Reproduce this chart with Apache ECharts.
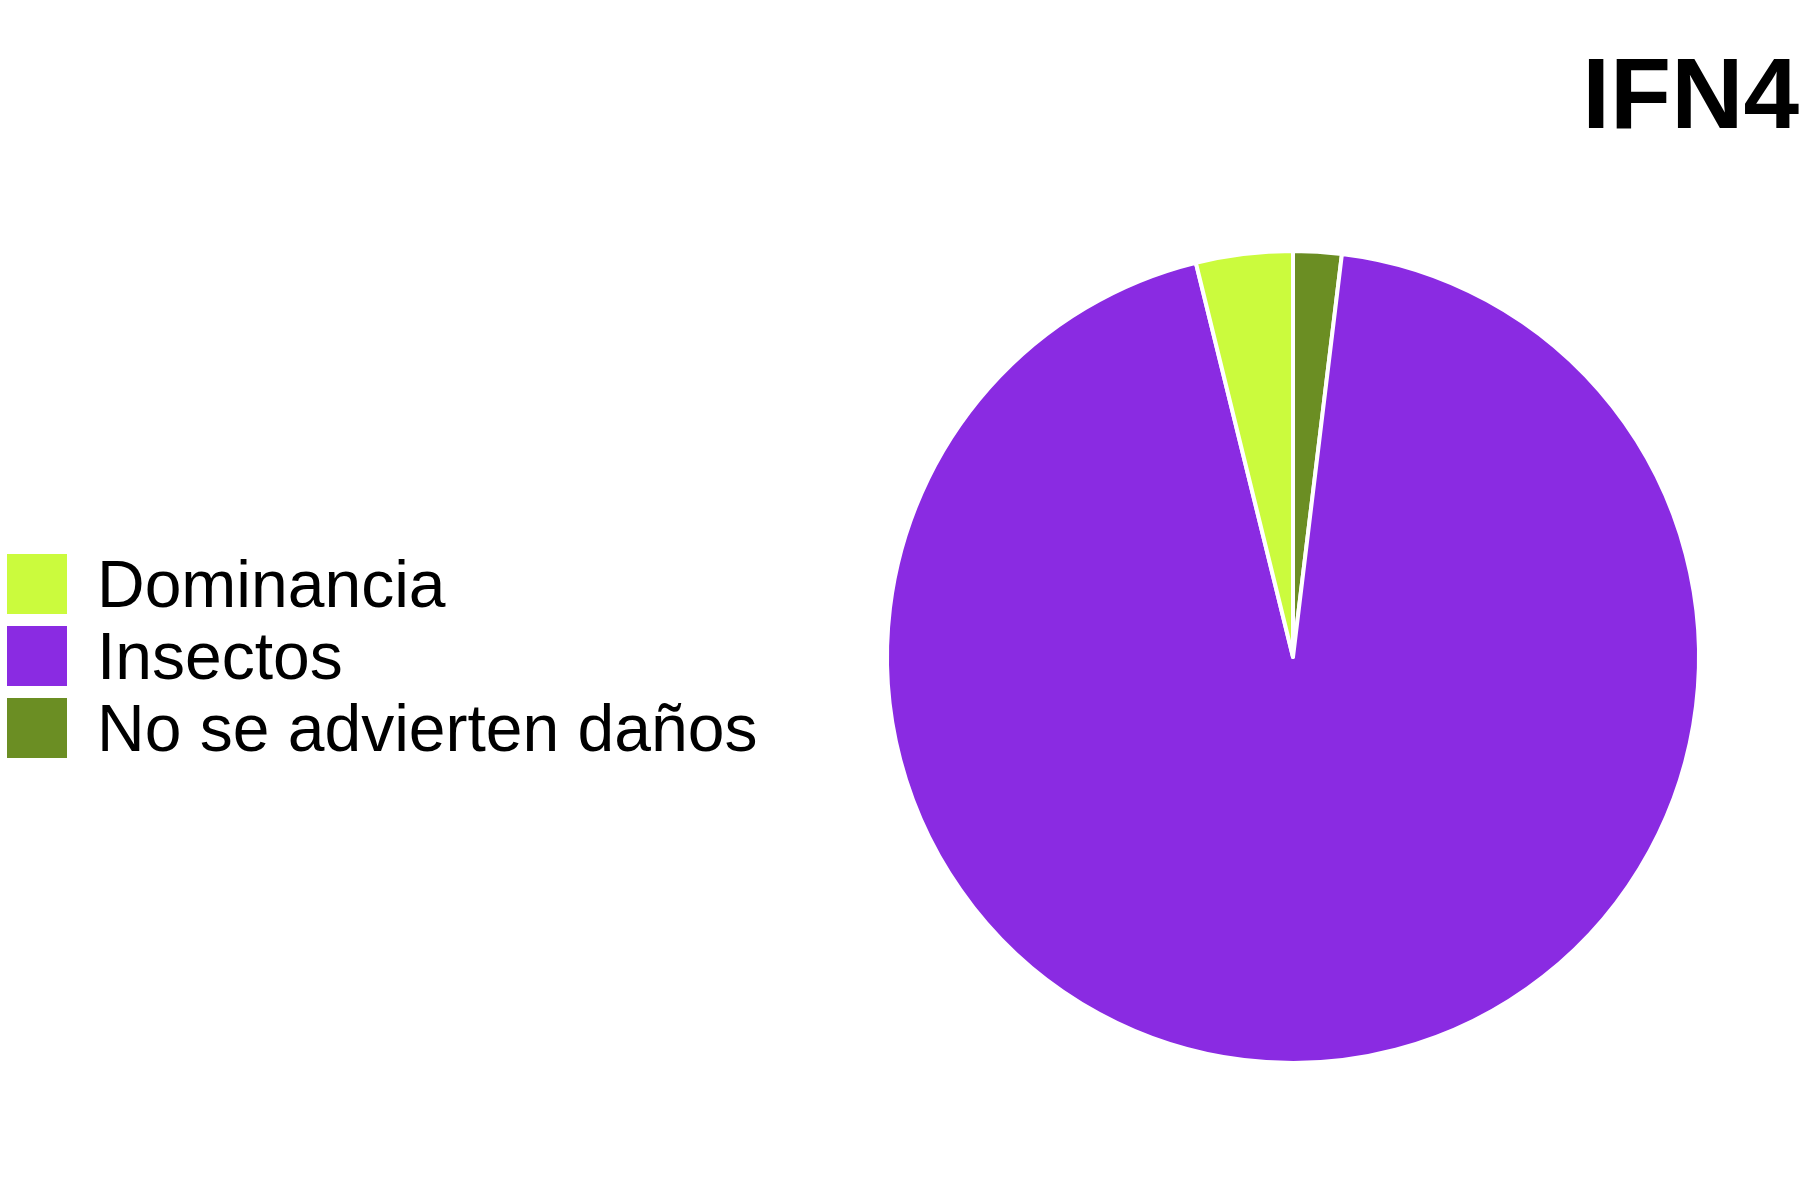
<!DOCTYPE html>
<html>
<head>
<meta charset="utf-8">
<script src="https://cdn.jsdelivr.net/npm/echarts@6/dist/echarts.min.js"></script>
<style>
  html, body { margin: 0; padding: 0; background: #fff; }
  #chart { width: 1800px; height: 1200px; }
</style>
</head>
<body>
<div id="chart"></div>
<script>
// 数据: 顺时针从12点开始
const categories = ['No se advierten daños', 'Insectos', 'Dominancia'];
const values = [1, 49, 2];
const colors = ['#6B8E23', '#8A2BE2', '#CBFB3D'];
const legendOrder = ['Dominancia', 'Insectos', 'No se advierten daños'];

const chart = echarts.init(document.getElementById('chart'));
chart.setOption({
  animation: false,
  title: {
    text: 'IFN4',
    right: -4,
    top: 45,
    textStyle: {
      fontFamily: 'Liberation Sans',
      fontSize: 100,
      fontWeight: 'bold',
      color: '#000'
    }
  },
  legend: {
    data: legendOrder,
    orient: 'vertical',
    left: 0,
    top: 541,
    itemWidth: 62,
    itemHeight: 62,
    itemGap: -4,
    icon: 'rect',
    formatter: '{n|{name}}',
    textStyle: {
      fontFamily: 'Liberation Sans',
      fontSize: 66,
      color: '#000',
      padding: [0, 0, 0, 24],
      rich: {
        n: {
          fontFamily: 'Liberation Sans',
          fontSize: 66,
          lineHeight: 62,
          color: '#000',
          padding: [10, 0, 0, 0]
        }
      }
    }
  },
  series: [{
    type: 'pie',
    center: [1293, 657],
    radius: 406,
    startAngle: 90,
    clockwise: true,
    label: { show: false },
    labelLine: { show: false },
    itemStyle: {
      borderColor: '#fff',
      borderWidth: 4
    },
    data: categories.map((name, i) => ({
      name: name,
      value: values[i],
      itemStyle: { color: colors[i] }
    }))
  }]
});
</script>
</body>
</html>
